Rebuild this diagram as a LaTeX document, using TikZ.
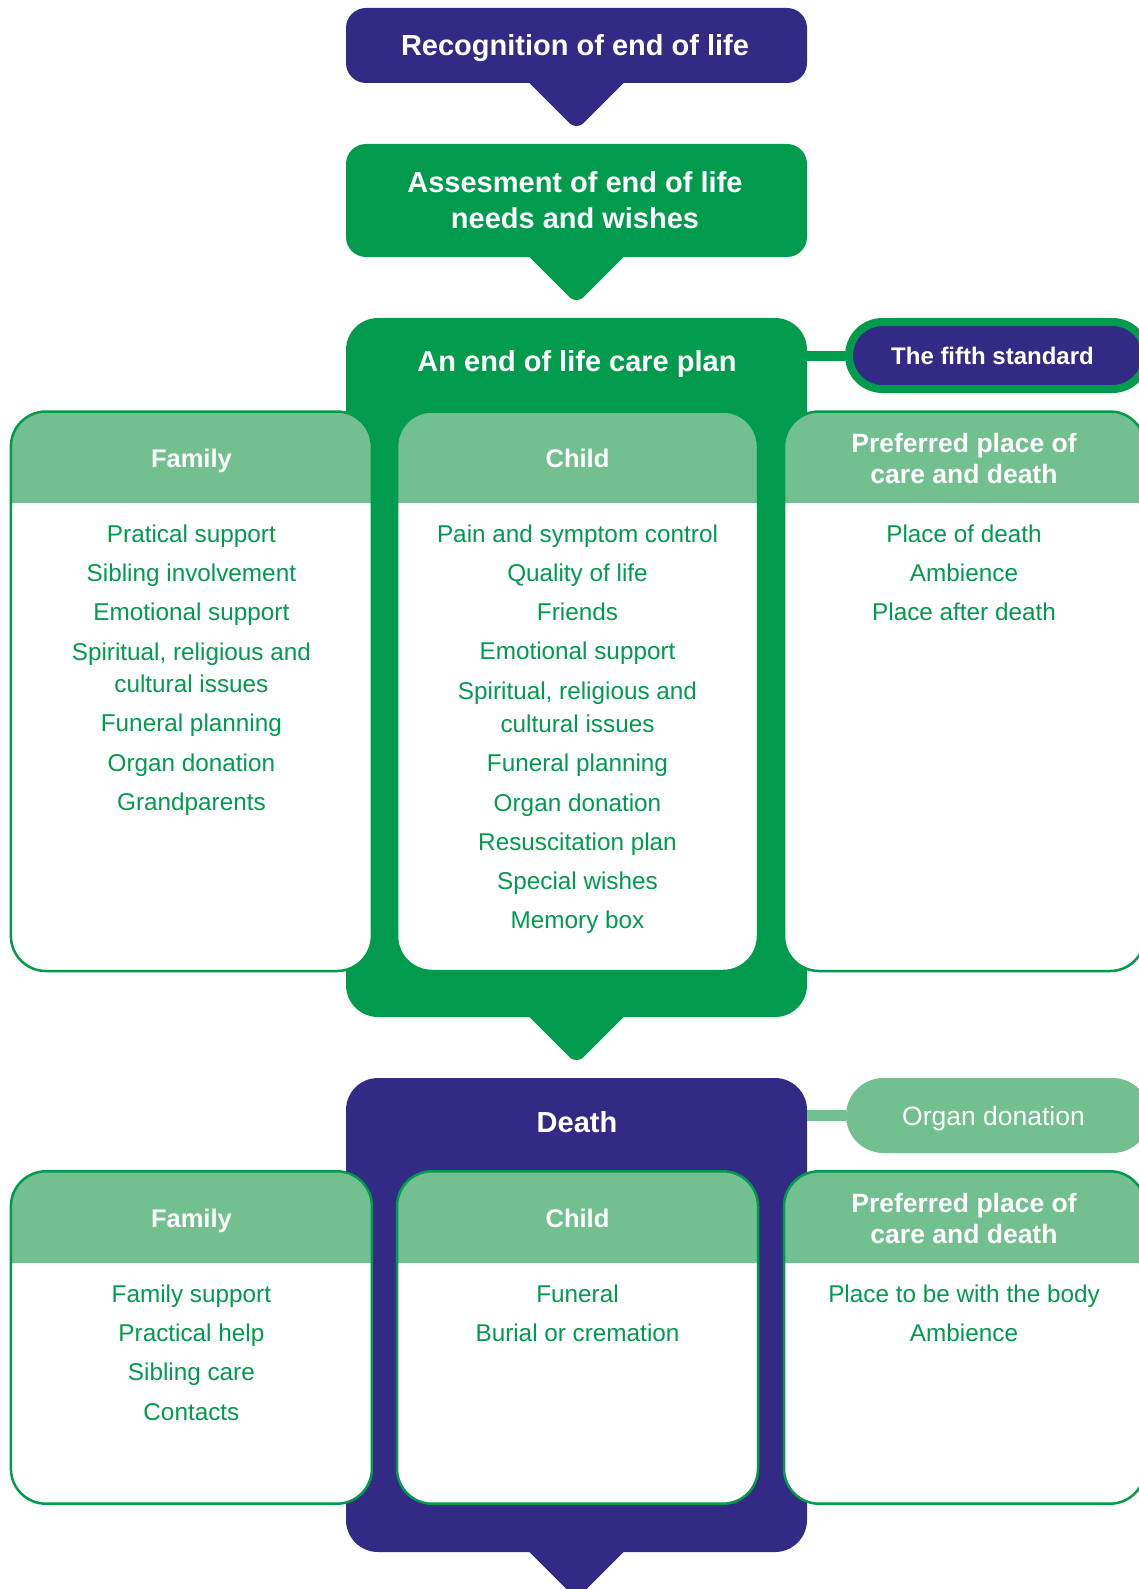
\documentclass[tikz,border=0pt]{standalone}
\usepackage{fontspec}
\setmainfont{Liberation Sans}
\usetikzlibrary{calc}
\definecolor{dg}{RGB}{0,155,76}
\definecolor{lg}{RGB}{114,191,143}
\definecolor{pu}{RGB}{51,42,134}
\newcommand{\calloutTri}[2]{%
  \fill[#2, rounded corners=10pt] ($(#1.south)+(-59,-12)$) -- ($(#1.south)+(59,-12)$) -- ($(#1.south)+(0,47)$) -- cycle;}
\begin{document}
\begin{tikzpicture}[x=1pt,y=-1pt,
  stagebox/.style={rectangle, inner sep=0pt, minimum width=461pt, fill=#1},
  panel/.style={rectangle, draw=dg, line width=2.5pt, fill=white, rounded corners=35pt,
    minimum width=361pt, minimum height=#1, inner sep=0pt,
    path picture={\fill[lg, sharp corners] (path picture bounding box.north west) rectangle ([yshift=-91.5pt]path picture bounding box.north east);}},
  itm/.style={anchor=base, inner sep=0pt, text=dg, font=\fontsize{24.3}{29}\selectfont},
  hdr/.style={anchor=base, inner sep=0pt, text=white, font=\bfseries\fontsize{25.5}{31}\selectfont},
  hdrp/.style={anchor=base, inner sep=0pt, text=white, font=\bfseries\fontsize{26.5}{31}\selectfont},
  ttl/.style={anchor=base, inner sep=0pt, text=white, font=\bfseries\fontsize{29}{35}\selectfont}]
\useasboundingbox (0,0) rectangle (1138,1589);

% stage 1
\node[stagebox=pu, rounded corners=20pt, minimum height=75pt] (rec) at (576.5,45.5) {};
\calloutTri{rec}{pu}
% stage 2
\node[stagebox=dg, rounded corners=20pt, minimum height=113pt] (ass) at (576.5,200.5) {};
\calloutTri{ass}{dg}
% stage 3
\node[stagebox=dg, rounded corners=32pt, minimum height=699pt] (cp) at (576.5,667.5) {};
\calloutTri{cp}{dg}
\node[rectangle, fill=pu, draw=dg, line width=8pt, rounded corners=33.5pt, minimum width=297pt, minimum height=67pt, inner sep=0pt] (fifth) at (997.5,355.5) {};
\draw[dg, line width=10pt] (cp.east |- fifth.west) -- (fifth.west);

\node[panel=559.5pt] (fam1) at (191.4,691.25) {};
\node[panel=559.5pt] (chi1) at (577.5,691.25) {};
\node[panel=559.5pt] (pre1) at (964.5,691.25) {};

% stage 4
\node[stagebox=pu, rounded corners=32pt, minimum height=474pt] (death) at (576.5,1315) {};
\calloutTri{death}{pu}
\node[rectangle, fill=lg, rounded corners=37.5pt, minimum width=304pt, minimum height=75pt, inner sep=0pt] (organ) at (998,1115.5) {};
\draw[lg, line width=11pt] (death.east |- organ.west) -- (organ.west);

\node[panel=332.4pt] (fam2) at (191.4,1337.5) {};
\node[panel=332.4pt] (chi2) at (577.5,1337.5) {};
\node[panel=332.4pt] (pre2) at (964.5,1337.5) {};

% titles
\node[ttl] (trec) at (575,55.5) {Recognition of end of life};
\node[ttl] (tass1) at (575,193) {Assesment of end of life};
\node[ttl] (tass2) at (575,229) {needs and wishes};
\node[ttl] (tcp) at (577,371) {An end of life care plan};
\node[anchor=base, inner sep=0pt, text=white, font=\bfseries\fontsize{24}{29}\selectfont] (tfifth) at (992.5,364) {The fifth standard};
\node[ttl] (tdeath) at (577,1132) {Death};
\node[anchor=base, inner sep=0pt, text=white, font=\fontsize{26.5}{31}\selectfont] (torgan) at (993.5,1125) {Organ donation};

% row 1 headers
\node[hdr] (hf1) at (191.4,467) {Family};
\node[hdr] (hc1) at (577.5,467) {Child};
\node[hdrp] (hp1a) at (964,452) {Preferred place of};
\node[hdrp] (hp1b) at (964,483) {care and death};

% row 1 family
\node[itm] (f1) at (191.4,542) {Pratical support};
\node[itm] (f2) at (191.4,581) {Sibling involvement};
\node[itm] (f3) at (191.4,620) {Emotional support};
\node[itm] (f4) at (191.4,660) {Spiritual, religious and};
\node[itm] (f5) at (191.4,692) {cultural issues};
\node[itm] (f6) at (191.4,731) {Funeral planning};
\node[itm] (f7) at (191.4,771) {Organ donation};
\node[itm] (f8) at (191.4,810) {Grandparents};

% row 1 child
\node[itm] (c1) at (577.5,542) {Pain and symptom control};
\node[itm] (c2) at (577.5,581) {Quality of life};
\node[itm] (c3) at (577.5,620) {Friends};
\node[itm] (c4) at (577.5,659) {Emotional support};
\node[itm] (c5) at (577.5,699) {Spiritual, religious and};
\node[itm] (c6) at (577.5,732) {cultural issues};
\node[itm] (c7) at (577.5,771) {Funeral planning};
\node[itm] (c8) at (577.5,811) {Organ donation};
\node[itm] (c9) at (577.5,850) {Resuscitation plan};
\node[itm] (c10) at (577.5,889) {Special wishes};
\node[itm] (c11) at (577.5,928) {Memory box};

% row 1 preferred
\node[itm] (p1) at (964,542) {Place of death};
\node[itm] (p2) at (964,581) {Ambience};
\node[itm] (p3) at (964,620) {Place after death};

% row 2 headers
\node[hdr] (hf2) at (191.4,1227) {Family};
\node[hdr] (hc2) at (577.5,1227) {Child};
\node[hdrp] (hp2a) at (964,1212) {Preferred place of};
\node[hdrp] (hp2b) at (964,1243) {care and death};

% row 2 items
\node[itm] (g1) at (191.4,1302) {Family support};
\node[itm] (g2) at (191.4,1341) {Practical help};
\node[itm] (g3) at (191.4,1380) {Sibling care};
\node[itm] (g4) at (191.4,1420) {Contacts};
\node[itm] (d1) at (577.5,1302) {Funeral};
\node[itm] (d2) at (577.5,1341) {Burial or cremation};
\node[itm] (q1) at (964,1302) {Place to be with the body};
\node[itm] (q2) at (964,1341) {Ambience};
\end{tikzpicture}
\end{document}
